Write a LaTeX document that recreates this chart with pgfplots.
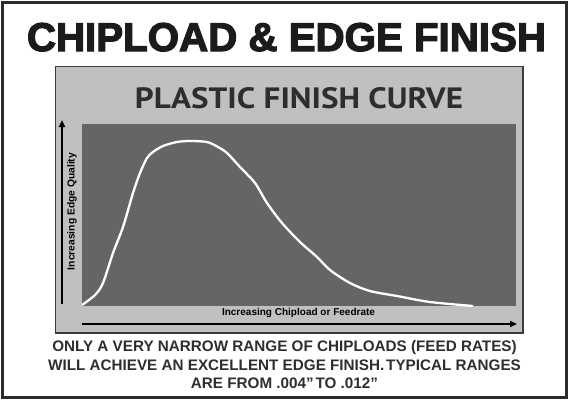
\documentclass[border=0pt]{standalone}
\usepackage{pgfplots}
\pgfplotsset{compat=1.18}
\usepackage{fontspec}
\setmainfont{Liberation Sans}
\newfontfamily\heavy{Liberation Sans}[UprightFont={* Bold}, FakeBold=3]
\newfontfamily\myriad{PT Sans}
\usetikzlibrary{arrows.meta}
\definecolor{frameC}{HTML}{2B2B2B}
\definecolor{panelC}{HTML}{C0C0C0}
\definecolor{panelB}{HTML}{3C3C3C}
\definecolor{darkC}{HTML}{656565}
\definecolor{titleC}{HTML}{1C1A1B}
\definecolor{textC}{HTML}{2E2E2E}
\begin{document}
\begin{tikzpicture}[x=1bp,y=-1bp]
\path[use as bounding box] (0,0) rectangle (569,400);
% outer frame
\draw[frameC, line width=2.6bp] (2.3,2.3) rectangle (566.7,397.7);
% title
\node[anchor=base, inner sep=0pt, text=titleC] at (286.5,51)
  {\resizebox{519bp}{28bp}{\heavy CHIPLOAD \& EDGE FINISH}};
% grey panel
\draw[panelB, fill=panelC, line width=1.2bp] (55.5,66.5) rectangle (523,333);
\node[anchor=base, inner sep=0pt, text=textC] at (299,108)
  {\resizebox{328bp}{21bp}{\myriad\bfseries PLASTIC FINISH CURVE}};
% arrows
\draw[black, line width=1.8bp, -{Triangle[length=7bp,width=6bp]}] (62,304) -- (62,120);
\draw[black, line width=1.8bp, -{Triangle[length=7bp,width=6bp]}] (82,324) -- (517,324);
% axis labels
\node[rotate=90, inner sep=0pt, text=black] at (72,211.5)
  {\resizebox{117bp}{!}{\bfseries Increasing Edge Quality}};
\node[inner sep=0pt, text=black] at (298.5,313)
  {\resizebox{153bp}{!}{\bfseries Increasing Chipload or Feedrate}};
% bottom text
\node[anchor=base, inner sep=0pt, text=textC] at (284.5,351)
  {\fontsize{15.3}{18}\selectfont\bfseries ONLY A VERY NARROW RANGE OF CHIPLOADS (FEED RATES)};
\node[anchor=base, inner sep=0pt, text=textC] at (284.5,370)
  {\fontsize{15.3}{18}\selectfont\bfseries WILL ACHIEVE AN EXCELLENT EDGE FINISH.\hspace{0.12em}TYPICAL RANGES};
\node[anchor=base, inner sep=0pt, text=textC] at (284.5,388.5)
  {\fontsize{15.3}{18}\selectfont\bfseries ARE FROM .004”\hspace{0.12em}TO .012”};
\coordinate (axpos) at (82,306);
% the plot
\begin{axis}[at={(axpos)}, anchor=south west, scale only axis,
  width=434bp, height=182bp, xmin=0, xmax=434, ymin=0, ymax=182,
  axis line style={draw=none}, ticks=none,
  axis background/.style={fill=darkC}]
\addplot[white, line width=2.3bp, smooth, tension=0.5] coordinates {
(0,1) (13,11) (21,23) (31,53) (41,79) (51,113) (58,133) (65,148)
(71,154) (81,160) (95,164) (108,165) (125,164) (136,159) (145,153)
(158,139) (173,123) (185,103) (200,83) (218,64) (235,49) (248,36)
(268,23) (288,15) (315,10) (348,4) (391,0)
};
\end{axis}
\end{tikzpicture}
\end{document}
